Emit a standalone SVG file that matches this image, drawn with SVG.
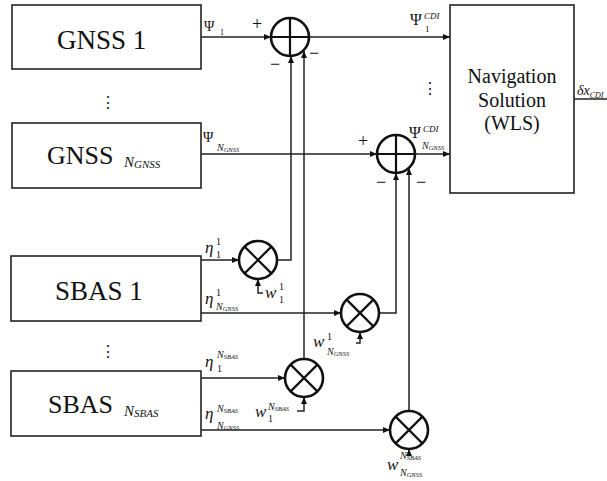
<svg xmlns="http://www.w3.org/2000/svg" width="607" height="481" viewBox="0 0 607 481" font-family="'Liberation Serif', 'DejaVu Serif', serif">
<style>
.box{fill:#fff;stroke:#222;stroke-width:1.6}
.t{fill:#111}
.i{font-style:italic;fill:#111}
.w{stroke:#222;stroke-width:1.5;fill:none}
.c{fill:#fff;stroke:#111;stroke-width:2.6}
.x{stroke:#111;stroke-width:2.2}
.s{font-size:18px;fill:#111}
.d{font-size:16px;fill:#222}
</style>
<defs>
<marker id="a" markerWidth="7" markerHeight="6" refX="7" refY="3" orient="auto" markerUnits="userSpaceOnUse">
<path d="M0,0 L7,3 L0,6 z" fill="#111"/>
</marker>
</defs>

<g id="connectors">
<path class="w" d="M201,37 H271" marker-end="url(#a)"/>
<path class="w" d="M309,37 H450" marker-end="url(#a)"/>
<path class="w" d="M201,154 H377" marker-end="url(#a)"/>
<path class="w" d="M415,154 H450" marker-end="url(#a)"/>
<path class="w" d="M574,99 H607"/>
<path class="w" d="M277,260 H291 V56" marker-end="url(#a)"/>
<path class="w" d="M304,359 V51" marker-end="url(#a)"/>
<path class="w" d="M379,313 H396 V173" marker-end="url(#a)"/>
<path class="w" d="M409,411 V168" marker-end="url(#a)"/>
<path class="w" d="M201,260 H239" marker-end="url(#a)"/>
<path class="w" d="M201,313 H341" marker-end="url(#a)"/>
<path class="w" d="M201,378 H285" marker-end="url(#a)"/>
<path class="w" d="M201,430 H390" marker-end="url(#a)"/>
<path class="w" d="M263,293 H258 V279" marker-end="url(#a)"/>
<path class="w" d="M356,343 H360 V332" marker-end="url(#a)"/>
<path class="w" d="M297,411 H304 V397" marker-end="url(#a)"/>
<path class="w" d="M409,456 V449" marker-end="url(#a)"/>
</g>

<g id="gnss1">
<rect class="box" x="12" y="5" width="189" height="64"/>
<text class="t" x="57" y="49" font-size="27">GNSS 1</text>
</g>
<text class="d" x="100" y="108">⋮</text>
<g id="gnssN">
<rect class="box" x="12" y="123" width="189" height="65"/>
<text class="t" x="47" y="164" font-size="26">GNSS</text>
<text class="i" x="124" y="167" font-size="15">N<tspan font-size="11" dy="1">GNSS</tspan></text>
</g>
<g id="sbas1">
<rect class="box" x="11" y="256" width="190" height="65"/>
<text class="t" x="55" y="300" font-size="27">SBAS 1</text>
</g>
<text class="d" x="100" y="357">⋮</text>
<g id="sbasN">
<rect class="box" x="11" y="371" width="190" height="65"/>
<text class="t" x="48" y="413" font-size="26">SBAS</text>
<text class="i" x="124" y="416" font-size="15">N<tspan font-size="11" dy="1">SBAS</tspan></text>
</g>

<g id="nav">
<rect class="box" x="450" y="5" width="124" height="188"/>
<text class="t" x="512" y="83" font-size="20" text-anchor="middle">Navigation</text>
<text class="t" x="512" y="107" font-size="20" text-anchor="middle">Solution</text>
<text class="t" x="512" y="130" font-size="20" text-anchor="middle">(WLS)</text>
</g>
<text class="i" x="577" y="95" font-size="14">δx<tspan font-size="8" dy="3">CDI</tspan></text>
<text class="d" x="422" y="94">⋮</text>

<g id="sum1">
<circle class="c" cx="290" cy="37" r="19"/>
<path class="x" d="M271,37 H309 M290,18 V56"/>
<text class="s" x="252" y="30">+</text>
<text class="s" x="270" y="70">−</text>
<text class="s" x="309" y="59">−</text>
</g>
<g id="sum2">
<circle class="c" cx="396" cy="154" r="19"/>
<path class="x" d="M377,154 H415 M396,135 V173"/>
<text class="s" x="358" y="147">+</text>
<text class="s" x="376" y="188">−</text>
<text class="s" x="416" y="188">−</text>
</g>

<g id="mult1">
<circle class="c" cx="258" cy="260" r="19"/>
<path class="x" d="M244.6,246.6 L271.4,273.4 M271.4,246.6 L244.6,273.4"/>
</g>
<g id="mult2">
<circle class="c" cx="360" cy="313" r="19"/>
<path class="x" d="M346.6,299.6 L373.4,326.4 M373.4,299.6 L346.6,326.4"/>
</g>
<g id="mult3">
<circle class="c" cx="304" cy="378" r="19"/>
<path class="x" d="M290.6,364.6 L317.4,391.4 M317.4,364.6 L290.6,391.4"/>
</g>
<g id="mult4">
<circle class="c" cx="409" cy="430" r="19"/>
<path class="x" d="M395.6,416.6 L422.4,443.4 M422.4,416.6 L395.6,443.4"/>
</g>

<g id="labels">
<text class="t" x="204" y="31" font-size="14">Ψ</text>
<text class="t" x="220" y="35" font-size="8">1</text>
<text class="t" x="203" y="142" font-size="14">Ψ</text>
<text class="i" x="217" y="151" font-size="10">N<tspan font-size="6.5" dy="1">GNSS</tspan></text>

<text class="t" x="410" y="25" font-size="16">Ψ</text>
<text class="i" x="424" y="19" font-size="9">CDI</text>
<text class="t" x="425" y="32" font-size="9">1</text>
<text class="t" x="409" y="138" font-size="16">Ψ</text>
<text class="i" x="423" y="132" font-size="9">CDI</text>
<text class="i" x="422" y="149" font-size="10">N<tspan font-size="6.5" dy="1">GNSS</tspan></text>

<text class="i" x="205" y="253" font-size="17">η</text>
<text class="t" x="216" y="245" font-size="10">1</text>
<text class="t" x="216" y="258" font-size="10">1</text>
<text class="i" x="205" y="304" font-size="17">η</text>
<text class="t" x="216" y="296" font-size="10">1</text>
<text class="i" x="216" y="310" font-size="10">N<tspan font-size="6.5" dy="1">GNSS</tspan></text>
<text class="i" x="205" y="367" font-size="17">η</text>
<text class="i" x="217" y="358" font-size="10">N<tspan font-size="6.5" dy="1">SBAS</tspan></text>
<text class="t" x="217" y="372" font-size="10">1</text>
<text class="i" x="205" y="419" font-size="17">η</text>
<text class="i" x="217" y="412" font-size="10">N<tspan font-size="6.5" dy="1">SBAS</tspan></text>
<text class="i" x="217" y="429" font-size="10">N<tspan font-size="6.5" dy="1">GNSS</tspan></text>

<text class="i" x="265" y="298" font-size="17">w</text>
<text class="t" x="279" y="290" font-size="10">1</text>
<text class="t" x="279" y="303" font-size="10">1</text>
<text class="i" x="313" y="347" font-size="17">w</text>
<text class="t" x="327" y="340" font-size="10">1</text>
<text class="i" x="327" y="355" font-size="10">N<tspan font-size="6.5" dy="1">GNSS</tspan></text>
<text class="i" x="255" y="417" font-size="17">w</text>
<text class="i" x="268" y="410" font-size="10">N<tspan font-size="6.5" dy="1">SBAS</tspan></text>
<text class="t" x="268" y="422" font-size="10">1</text>
<text class="i" x="387" y="470" font-size="17">w</text>
<text class="i" x="400" y="459" font-size="10">N<tspan font-size="6.5" dy="1">SBAS</tspan></text>
<text class="i" x="400" y="476" font-size="10">N<tspan font-size="6.5" dy="1">GNSS</tspan></text>
</g>
</svg>
